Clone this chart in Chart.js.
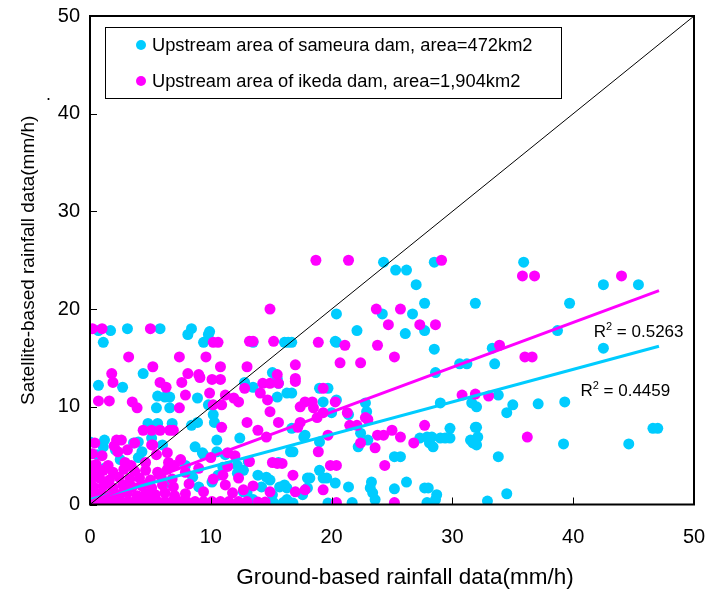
<!DOCTYPE html>
<html>
<head>
<meta charset="utf-8">
<script src="https://cdn.jsdelivr.net/npm/chart.js@4.4.1/dist/chart.umd.min.js"></script>
<style>
  body { margin: 0; background: #fff; }
  #wrap { width: 709px; height: 591px; }
</style>
</head>
<body>
<div id="wrap"><canvas id="myChart" width="709" height="591"></canvas></div>
<script>
// series labels
var seriesNames = ["Upstream area of sameura dam, area=472km2", "Upstream area of ikeda dam, area=1,904km2"];
var seriesColors = ["#00CCFF", "#FF00FF"];
var xTitle = "Ground-based rainfall data(mm/h)";
var yTitle = "Satellite-based rainfall data(mm/h)";

// axis
var axisMax = 50;
var tickStep = 10;

// sameura dam (cyan) : [ground, satellite]
var sameuraPts = [
  [24.3,24.8],[25.3,24.0],[26.2,24.0],[28.5,24.8],[35.9,24.8],[42.5,22.5],[45.4,22.5],[27.0,22.5],
  [27.7,20.6],[31.9,20.6],[39.7,20.6],[20.4,19.5],[24.2,19.5],[26.7,19.5],
  [22.1,17.8],[27.7,17.8],[26.1,17.5],[38.7,17.8],[16.4,16.6],[16.7,16.6],[20.4,16.6],[20.3,16.7],
  [28.5,15.9],[33.3,16.0],[42.5,16.0],[30.6,14.4],[31.2,14.4],[33.5,14.4],[28.6,13.5],
  [0.7,17.8],[1.7,17.8],[3.1,18.0],[5.8,18.0],[8.4,18.0],[8.1,17.4],[9.9,17.7],[9.8,17.4],[9.4,16.6],[1.1,16.6],[13.5,16.6],[16.1,16.6],
  [4.4,13.4],[15.1,13.5],[15.5,12.9],[12.8,12.5],[13.5,12.0],[0.7,12.2],[2.7,12.0],
  [5.6,11.1],[6.2,11.0],[6.6,11.0],[8.9,10.9],[9.8,10.2],[5.5,9.9],[6.6,9.9],
  [10.2,9.2],[10.3,8.4],[8.9,8.4],[8.4,8.1],[4.8,8.3],[5.6,8.3],[6.8,8.3],[12.4,6.8],[10.5,6.6],
  [0.0,6.4],[1.1,5.9],[4.0,6.4],[5.1,6.8],[8.7,5.9],[9.3,5.3],
  [15.6,12.4],[15.5,11.0],[16.3,11.4],[16.7,11.4],[19.0,11.9],[19.7,11.9],[19.3,10.5],[20.4,10.7],[20.0,9.4],[21.4,9.2],[22.8,10.4],[22.9,9.5],
  [16.7,7.8],[17.8,7.1],[19.0,6.4],[22.4,7.3],[23.0,6.6],[22.2,5.9],[16.6,5.4],[16.8,5.4],[17.7,6.9],
  [27.3,6.8],[27.9,6.9],[28.3,6.9],[29.0,6.8],[29.4,6.8],[29.8,6.8],[28.1,6.3],[28.4,5.9],[29.8,7.8],[31.9,7.9],[31.5,6.6],[31.7,6.3],[29.0,10.4],[31.6,10.4],
  [25.2,4.9],[25.7,4.9],[33.8,4.9],
  [18.0,2.7],[18.2,2.7],[19.3,2.7],[19.0,3.5],[19.6,2.7],[16.3,1.7],[20.3,2.2],[21.4,1.8],[23.3,2.3],[23.2,1.7],[23.4,1.2],[23.6,0.5],[25.2,1.6],[26.2,2.3],[27.7,1.7],[28.0,1.7],[28.7,1.0],[28.6,0.5],
  [16.6,0.15],[16.8,0.15],[19.7,0.15],[21.7,0.2],[27.9,0.2],[17.6,1.0],[18.0,1.7],
  [33.8,11.2],[32.0,10.0],[35.0,10.2],[34.5,9.4],[37.1,10.3],[39.3,10.5],[32.0,7.9],[32.1,6.9],[32.0,6.1],[39.2,6.2],[44.6,6.2],[46.6,7.8],[47.0,7.8],[34.5,1.1],[32.9,0.35],
  [0.6,5.1],[1.2,6.6],[2.1,5.6],[3.6,6.3],[4.3,5.4],[6.0,6.1],[9.4,5.1],[10.5,5.4],[11.2,5.1],[13.1,4.4],[12.2,4.0],[13.9,3.0],[14.6,2.8],[15.6,4.3],[16.1,2.0],
  [15.1,1.0],[12.7,1.3],[10.6,3.0],[10.1,2.3],[7.9,4.0],[0.4,3.0],[1.2,3.7],[0.0,1.3],[11.0,3.8],[12.2,3.2],[12.7,3.5],[14.2,1.8],[14.9,2.5],[15.7,1.8],[16.3,0.5],
  [13.0,1.2],[13.5,0.5],[15.2,0.2],[16.0,0.2],[8.5,2.8],[9.0,1.8],[4.0,4.8],[2.5,4.6],[6.2,2.2]
];

// ikeda dam (magenta)
var ikedaPts = [
  [18.7,25.0],[21.4,25.0],[29.1,25.0],[35.8,23.4],[36.8,23.4],[44.0,23.4],
  [14.9,20.0],[23.7,20.0],[25.7,20.0],[24.7,18.4],[27.3,18.4],[28.6,18.4],
  [18.9,16.6],[21.1,16.3],[23.8,16.3],[25.2,15.1],[17.0,14.3],[20.7,14.5],[22.4,14.5],[17.0,12.9],[33.9,16.3],[36.0,15.1],[36.6,15.1],
  [0.2,18.0],[1.0,18.0],[5.0,18.0],[10.2,16.6],[10.6,16.6],[13.2,16.7],[13.5,16.7],[15.2,16.7],
  [3.2,15.1],[7.4,15.1],[9.6,15.1],[5.2,14.1],[10.8,14.1],[13.0,14.1],
  [1.8,13.4],[1.9,12.5],[8.1,13.4],[9.0,13.3],[5.8,12.5],[6.3,12.0],[7.6,12.5],[9.1,13.0],[10.1,12.8],[10.8,12.8],[15.5,13.3],[14.3,12.4],[14.9,12.4],[15.6,12.4],
  [0.7,10.6],[1.6,10.6],[3.5,10.5],[3.9,9.9],[7.9,11.2],[9.9,11.4],[11.2,11.2],[7.4,9.9],[10.2,10.2],[10.9,10.2],[11.9,10.9],[12.3,10.5],[14.1,11.4],[12.8,11.9],[14.7,10.7],[14.9,9.5],
  [13.0,8.4],[15.6,8.4],[10.9,7.9],[4.4,7.6],[5.1,7.6],[5.8,7.6],[6.6,7.6],[6.9,7.6],[13.9,7.6],[14.6,6.9],
  [0.4,6.3],[2.2,6.6],[2.6,6.6],[3.7,6.3],[5.2,6.1],[11.4,5.3],
  [17.0,12.6],[19.3,11.9],[17.4,10.0],[17.8,10.5],[18.4,10.5],[18.5,9.9],[20.3,10.5],[18.8,8.9],[19.3,9.4],[17.4,8.4],[17.2,7.9],[21.3,9.4],[22.8,8.9],[23.0,8.7],
  [21.5,8.1],[22.1,8.1],[23.8,7.1],[24.3,7.1],[25.0,7.6],[22.4,6.3],[23.6,5.8],[25.7,6.9],[26.8,6.3],[27.7,8.1],[30.8,11.2],[31.9,11.3],[33.0,11.1],
  [19.7,7.1],[18.9,5.4],[19.9,4.0],[20.4,4.0],[24.4,4.0],[15.9,4.2],[16.8,3.0],[17.0,1.3],[17.8,1.5],[19.3,1.5],[20.4,0.2],[25.2,0.2],[36.2,6.9],
  [0.2,0.3],[0.8,0.3],[1.4,0.3],[2.0,0.3],[2.6,0.3],[3.2,0.3],[3.8,0.3],[4.4,0.3],[5.0,0.3],[5.6,0.3],[6.2,0.3],[6.8,0.3],[7.4,0.3],[8.0,0.3],[8.7,0.3],[9.4,0.3],
  [10.1,0.3],[10.8,0.3],[11.5,0.3],[12.3,0.3],[13.0,0.3],[13.9,0.25],[14.5,0.25],
  [0.2,1.0],[0.9,1.1],[1.6,0.9],[2.4,1.0],[3.1,1.2],[3.9,0.9],[4.6,1.1],[5.4,1.0],[6.2,1.2],[7.0,0.9],[7.9,1.1],[9.4,1.3],[11.8,1.2],[12.7,1.5],[14.9,1.3],
  [0.3,1.8],[1.1,1.9],[1.9,1.7],[2.7,2.0],[3.5,1.8],[4.3,1.9],[5.1,1.7],[6.0,2.0],[6.9,1.8],[8.2,2.1],[11.2,2.0],[13.5,1.9],
  [0.1,2.6],[0.8,2.7],[1.6,2.5],[2.4,2.8],[3.3,2.6],[4.1,2.7],[5.0,2.5],[5.9,2.8],[6.8,2.6],[7.9,3.3],[11.0,3.0],[12.3,2.7],[10.2,2.6],
  [0.3,3.4],[1.1,3.5],[1.9,3.3],[2.8,3.6],[3.7,3.4],[4.6,3.5],[5.6,3.3],[6.4,3.6],[9.0,3.7],[11.4,3.9],
  [0.0,4.0],[0.5,4.1],[1.5,4.0],[2.9,4.3],[3.4,4.0],[4.6,4.3],[6.5,4.3],[7.0,4.0],[7.5,4.6],[15.5,4.2],[13.2,4.4],[15.1,4.3],
  [0.2,5.2],[1.0,5.0],[2.3,5.4],[3.1,5.6],[5.5,5.1],[6.4,5.3],[2.0,6.0],[5.1,6.1],[10.0,4.8],[12.0,5.0]
];

// linear trends and 1:1 line (end points)
var trendSameura = [[0, 0.5], [47.1, 16.2]];
var trendIkeda = [[0, 0.3], [47.1, 21.9]];
var oneToOne = [[0, 0], [50, 50]];
var r2Labels = ["0.4459", "0.5263"];
var r2Anchors = [[40.6, 11.1], [41.7, 17.15]];

var fontFam = "'Liberation Sans', Arial, sans-serif";
Chart.defaults.font.family = fontFam;
Chart.defaults.color = "#000";

function toXY(arr) {
  return arr.map(function (p) { return { x: p[0], y: p[1] }; });
}

var decor = {
  id: "decor",
  afterDraw: function (chart) {
    var ctx = chart.ctx, a = chart.chartArea;
    var xs = chart.scales.x, ys = chart.scales.y;
    ctx.save();
    ctx.strokeStyle = "#000";
    // inward tick marks
    ctx.lineWidth = 1;
    ctx.beginPath();
    xs.ticks.forEach(function (t) {
      var px = Math.round(xs.getPixelForValue(t.value)) + 0.5;
      ctx.moveTo(px, a.bottom); ctx.lineTo(px, a.bottom - 7);
    });
    ys.ticks.forEach(function (t) {
      var py = Math.round(ys.getPixelForValue(t.value)) + 0.5;
      ctx.moveTo(a.left, py); ctx.lineTo(a.left + 7, py);
    });
    ctx.stroke();
    // frame
    ctx.lineWidth = 2;
    ctx.strokeRect(a.left, a.top, a.right - a.left, a.bottom - a.top);

    // legend
    var lx = a.left + 15, ly = a.top + 11;
    ctx.lineWidth = 1;
    ctx.strokeRect(lx + 0.5, ly + 0.5, 456, 71);
    ctx.font = "18.3px " + fontFam;
    ctx.textBaseline = "middle";
    ctx.textAlign = "left";
    for (var i = 0; i < 2; i++) {
      var cy = ly + 18 + i * 36;
      ctx.fillStyle = seriesColors[i];
      ctx.beginPath();
      ctx.arc(lx + 36, cy, 5, 0, Math.PI * 2);
      ctx.fill();
      ctx.fillStyle = "#000";
      ctx.fillText(seriesNames[i], lx + 47, cy + 1);
    }

    // x axis title (sits a little right of the plot centre)
    ctx.textAlign = "center";
    ctx.font = "22.5px " + fontFam;
    ctx.fillText(xTitle, (a.left + a.right) / 2 + 13, 578);

    // R^2 labels
    ctx.textAlign = "left";
    ctx.textBaseline = "alphabetic";
    for (var j = 0; j < r2Labels.length; j++) {
      var rx = xs.getPixelForValue(r2Anchors[j][0]);
      var ry = ys.getPixelForValue(r2Anchors[j][1]);
      ctx.font = "17px " + fontFam;
      ctx.fillText("R", rx, ry);
      var w = ctx.measureText("R").width;
      ctx.font = "11px " + fontFam;
      ctx.fillText("2", rx + w, ry - 7);
      var w2 = ctx.measureText("2").width;
      ctx.font = "17px " + fontFam;
      ctx.fillText(" = " + r2Labels[j], rx + w + w2, ry);
    }

    // stray dot next to the y title
    ctx.font = "18px " + fontFam;
    ctx.fillText(".", 46, 100);
    ctx.restore();
  }
};

var ctx = document.getElementById("myChart").getContext("2d");
var chart = new Chart(ctx, {
  type: "scatter",
  data: {
    datasets: [
      {
        label: "1:1",
        type: "line",
        data: toXY(oneToOne),
        borderColor: "#000",
        borderWidth: 1,
        pointRadius: 0,
        fill: false,
        order: 0
      },
      {
        label: "trend ikeda",
        type: "line",
        data: toXY(trendIkeda),
        borderColor: seriesColors[1],
        borderWidth: 3,
        pointRadius: 0,
        fill: false,
        order: 1
      },
      {
        label: "trend sameura",
        type: "line",
        data: toXY(trendSameura),
        borderColor: seriesColors[0],
        borderWidth: 3,
        pointRadius: 0,
        fill: false,
        order: 1
      },
      {
        label: seriesNames[1],
        data: toXY(ikedaPts),
        backgroundColor: seriesColors[1],
        pointRadius: 5.5,
        pointBorderWidth: 0,
        order: 2
      },
      {
        label: seriesNames[0],
        data: toXY(sameuraPts),
        backgroundColor: seriesColors[0],
        pointRadius: 5.5,
        pointBorderWidth: 0,
        order: 3
      }
    ]
  },
  options: {
    responsive: false,
    animation: false,
    layout: { padding: { top: 16, right: 15, left: 0, bottom: 0 } },
    plugins: { legend: { display: false }, tooltip: { enabled: false } },
    scales: {
      x: {
        type: "linear",
        min: 0,
        max: axisMax,
        ticks: { stepSize: tickStep, padding: 21, maxRotation: 0, font: { size: 20 }, color: "#000" },
        grid: { display: false, drawTicks: false },
        border: { display: false },
        title: { display: false, text: xTitle },
        afterFit: function (s) { s.height = 86.5; s.paddingLeft = 0; s.paddingRight = 0; }
      },
      y: {
        type: "linear",
        min: 0,
        max: axisMax,
        ticks: { stepSize: tickStep, padding: 10, font: { size: 20 }, color: "#000" },
        grid: { display: false, drawTicks: false },
        border: { display: false },
        title: { display: true, text: yTitle, font: { size: 19 }, color: "#000", padding: { top: 17, bottom: 0 } },
        afterFit: function (s) { s.width = 90; s.paddingTop = 0; s.paddingBottom = 0; }
      }
    }
  },
  plugins: [decor]
});
</script>
</body>
</html>
